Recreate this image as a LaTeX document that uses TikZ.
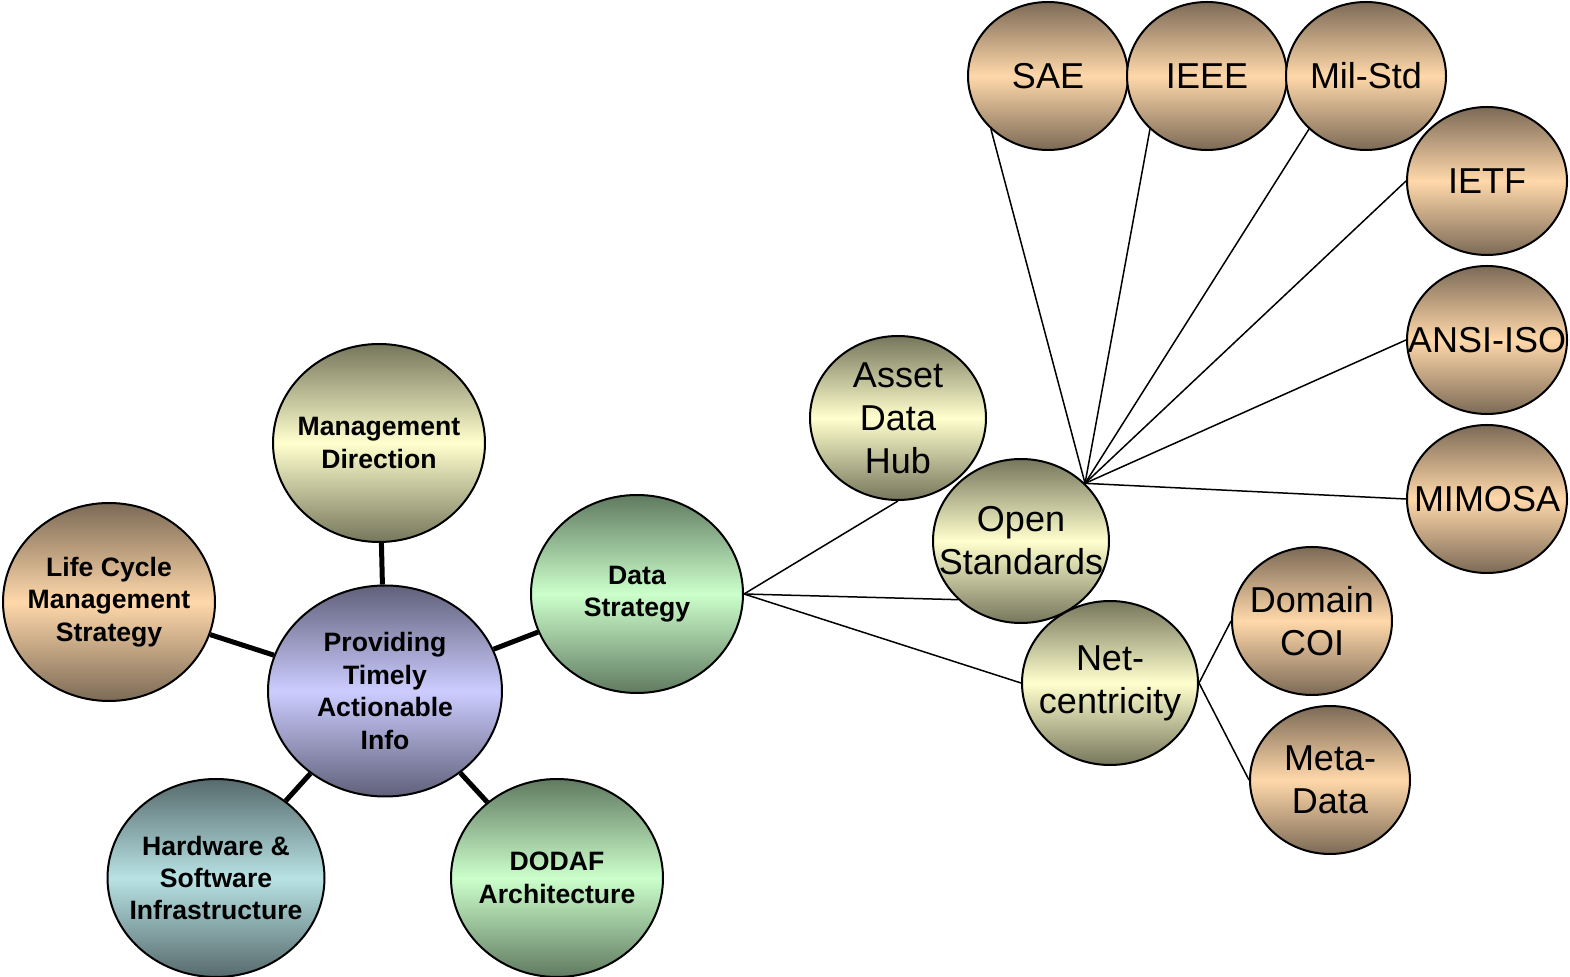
\documentclass[tikz,border=0pt]{standalone}
\usepackage{fontspec}
\setmainfont{Liberation Sans}
\usetikzlibrary{shapes.geometric}

\definecolor{peachL}{RGB}{255,216,170}
\definecolor{peachD}{RGB}{124,106,86}
\definecolor{yellowL}{RGB}{255,255,206}
\definecolor{yellowD}{RGB}{118,118,92}
\definecolor{purpleL}{RGB}{204,204,255}
\definecolor{purpleD}{RGB}{96,96,122}
\definecolor{greenL}{RGB}{204,255,204}
\definecolor{greenD}{RGB}{96,122,96}
\definecolor{tealL}{RGB}{184,226,228}
\definecolor{tealD}{RGB}{86,106,108}

\tikzset{
	bubble/.style={ellipse,draw,line width=1pt,inner sep=-30pt,align=center,
		top color=#1D,bottom color=#1D,middle color=#1L},
	bigbubble/.style={minimum width=106pt,minimum height=99pt,
		font=\fontsize{13.3}{16.2}\selectfont\bfseries},
	midbubble/.style={minimum width=88pt,minimum height=82pt,
		font=\fontsize{18}{21.5}\selectfont},
	smallbubble/.style={minimum width=80pt,minimum height=74pt,
		font=\fontsize{18}{21.5}\selectfont},
}

\begin{document}
\begin{tikzpicture}[x=0.5pt,y=-0.5pt]
	\useasboundingbox (0,0) rectangle (1570,977);
	\begin{scope}[every node/.style={bigbubble}]
	\node[bubble=purple,minimum width=117pt,minimum height=105.5pt] (info) at (385,691) {Providing\\Timely\\Actionable\\Info};
	\node[bubble=yellow] (mgmt) at (379,443) {Management\\Direction};
	\node[bubble=peach] (lcm) at (109,602) {Life Cycle\\Management\\Strategy};
	\node[bubble=green] (data) at (637,594) {Data\\Strategy};
	\node[bubble=teal,minimum width=108.5pt] (hw) at (216,878) {Hardware \&\\Software\\Infrastructure};
	\node[bubble=green] (dodaf) at (557,878) {DODAF\\Architecture};
	\end{scope}
	\begin{scope}[every node/.style={midbubble}]
	\node[bubble=yellow] (hub) at (898,418) {Asset\\Data\\Hub};
	\node[bubble=yellow] (open) at (1021,541) {Open\\Standards};
	\node[bubble=yellow] (net) at (1110,683) {Net-\\centricity};
	\end{scope}
	\begin{scope}[every node/.style={smallbubble}]
	\node[bubble=peach] (sae) at (1048,76) {SAE};
	\node[bubble=peach] (ieee) at (1207,76) {IEEE};
	\node[bubble=peach] (mil) at (1366,76) {Mil-Std};
	\node[bubble=peach] (ietf) at (1487,181) {IETF};
	\node[bubble=peach] (ansi) at (1487,340) {ANSI-ISO};
	\node[bubble=peach] (mimosa) at (1487,499) {MIMOSA};
	\node[bubble=peach] (coi) at (1312,621) {Domain\\COI};
	\node[bubble=peach] (meta) at (1330,780) {Meta-\\Data};
	\end{scope}
	% spokes round the centre
	\begin{scope}[line width=2.5pt]
	\path (info) edge (mgmt) edge (lcm) edge (data) edge (hw) edge (dodaf);
	\end{scope}
	% thin links
	\begin{scope}[line width=0.75pt]
	\path (data.east) edge (hub.south) edge (open.223) edge (net.west);
	\path (open.42) edge (sae.223) edge (ieee.223) edge (mil.223)
		edge (ietf.west) edge (ansi.west) edge (mimosa.west);
	\path (net.east) edge (coi.west) edge (meta.west);
	\end{scope}
\end{tikzpicture}
\end{document}
